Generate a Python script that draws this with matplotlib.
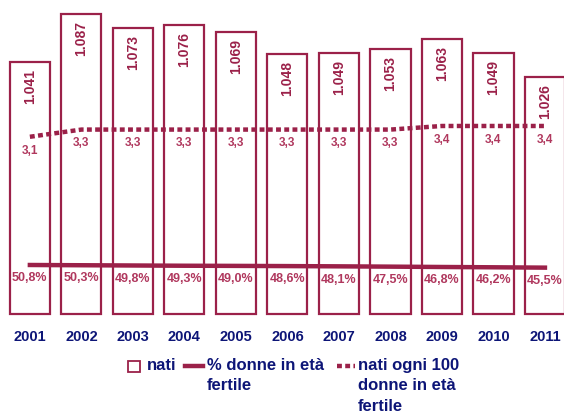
import matplotlib.pyplot as plt
from matplotlib.patches import Rectangle
from matplotlib.lines import Line2D

plt.rcParams['font.family'] = ['Liberation Sans', 'DejaVu Sans']

anni = [2001, 2002, 2003, 2004, 2005, 2006, 2007, 2008, 2009, 2010, 2011]
nati = [1041, 1087, 1073, 1076, 1069, 1048, 1049, 1053, 1063, 1049, 1026]
perc_donne = [50.8, 50.3, 49.8, 49.3, 49.0, 48.6, 48.1, 47.5, 46.8, 46.2, 45.5]
nati_100 = [3.1, 3.3, 3.3, 3.3, 3.3, 3.3, 3.3, 3.3, 3.4, 3.4, 3.4]
base = 800

rosso = '#9B2149'
rosa = '#B0385E'
blu = '#0D1577'

fig = plt.figure( figsize = ( 5.64, 4.16 ), dpi = 100 )
ax = fig.add_axes( [ 0, 0.2308, 1, 0.7692 ] )

# barre dei nati (migliaia)
ax.bar( anni, [ n - base for n in nati ], bottom = base, width = 0.78,
        facecolor = 'white', edgecolor = rosso, linewidth = 1.6 )
ax.set_xlim( 2000.42, 2011.37 )
ax.set_ylim( 794.3, 1100 )
for a, n in zip( anni, nati ):
    lab = '{:.3f}'.format( n / 1000 )
    ax.annotate( lab, ( a, n ), xytext = ( 0, -5 ), textcoords = 'offset points',
                 rotation = 90, ha = 'center', va = 'top', fontsize = 10,
                 fontweight = 'bold', color = rosso )

# nati ogni 100 donne in eta fertile
ax2 = ax.twinx()
ax2.set_ylim( -1.99, 6.9 )
ax2.plot( anni, nati_100, color = rosso, linewidth = 3.2, linestyle = ( 0, ( 1.1, 0.75 ) ) )
for a, v in zip( anni, nati_100 ):
    ax2.annotate( '{:.1f}'.format( v ).replace( '.', ',' ), ( a, v ), xytext = ( 0, -10 ),
                  textcoords = 'offset points', ha = 'center', va = 'center',
                  fontsize = 8.5, fontweight = 'bold', color = rosa )

# % donne in eta fertile
ax3 = ax.twinx()
ax3.set_ylim( -59.2, 580.8 )
ax3.plot( anni, perc_donne, color = rosso, linewidth = 3.2 )
for a, v in zip( anni, perc_donne ):
    ax3.annotate( '{:.1f}%'.format( v ).replace( '.', ',' ), ( a, v ), xytext = ( 0, -9.5 ),
                  textcoords = 'offset points', ha = 'center', va = 'center',
                  fontsize = 9, fontweight = 'bold', color = rosa )

for a_ in [ ax, ax2, ax3 ]:
    for s in a_.spines.values():
        s.set_visible( False )
    a_.set_yticks( [] )
ax2.set_xticks( [] )
ax3.set_xticks( [] )

ax.set_xticks( anni )
ax.set_xticklabels( [ str( a ) for a in anni ], fontsize = 10.5, fontweight = 'bold', color = blu )
ax.tick_params( axis = 'x', length = 0, pad = 7 )

# legenda
def fx( px ):
    return px / 564

def fy( py ):
    return 1 - py / 416

fig.patches.append( Rectangle( ( fx( 128 ), fy( 372 ) ), fx( 12 ), 11 / 416, transform = fig.transFigure,
                               facecolor = 'white', edgecolor = rosso, linewidth = 1.3 ) )
fig.text( fx( 147 ), fy( 366 ), 'nati', fontsize = 12, fontweight = 'bold', color = blu, va = 'center' )
fig.lines.append( Line2D( [ fx( 185 ), fx( 203 ) ], [ fy( 366 ), fy( 366 ) ], transform = fig.transFigure,
                          color = rosso, linewidth = 3.2 ) )
fig.text( fx( 207 ), fy( 358 ), '% donne in età\nfertile', fontsize = 12, fontweight = 'bold',
          color = blu, va = 'top', linespacing = 1.45 )
fig.lines.append( Line2D( [ fx( 337 ), fx( 355 ) ], [ fy( 366 ), fy( 366 ) ], transform = fig.transFigure,
                          color = rosso, linewidth = 3.2, linestyle = ( 0, ( 1.1, 0.75 ) ) ) )
fig.text( fx( 358 ), fy( 358 ), 'nati ogni 100\ndonne in età\nfertile', fontsize = 12, fontweight = 'bold',
          color = blu, va = 'top', linespacing = 1.45 )

fig.savefig( 'out.png', dpi = 100 )
